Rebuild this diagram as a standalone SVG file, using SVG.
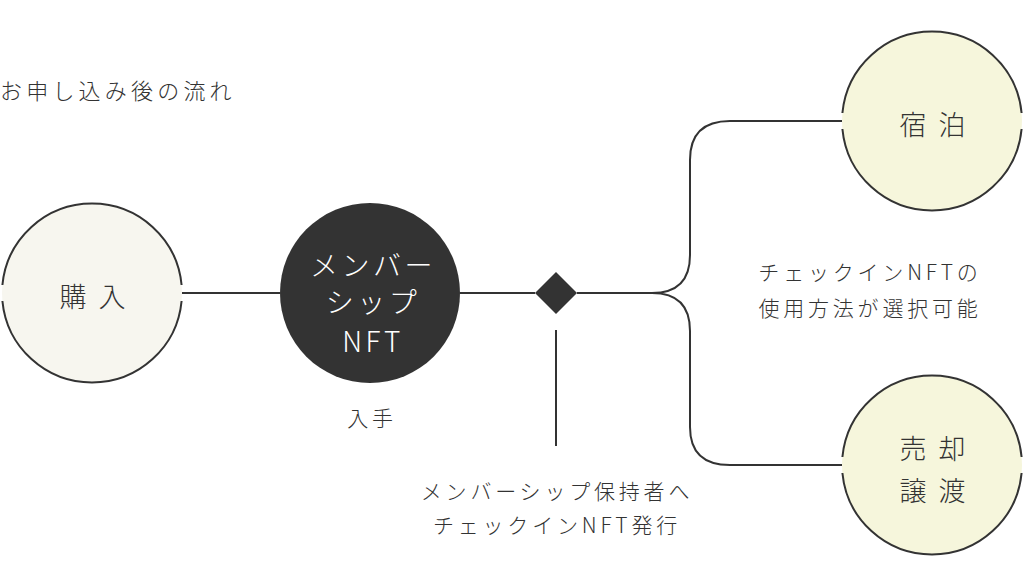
<svg xmlns="http://www.w3.org/2000/svg" width="1024" height="588" viewBox="0 0 1024 588">
<style>
text{font-family:"Noto Sans CJK JP","Noto Sans",sans-serif;fill:#333;text-anchor:middle;font-weight:300}
.ln{fill:none;stroke:#333;stroke-width:2}
.lbl{font-size:21px;letter-spacing:3.8px}
.big{font-size:27px;letter-spacing:3px}
.w{fill:#fff;font-size:28px;letter-spacing:3.5px}
</style>
<rect width="1024" height="588" fill="#fff"/>
<text x="0" y="99" style="text-anchor:start;font-size:22px;letter-spacing:4.2px">お申し込み後の流れ</text>
<g id="connectors">
<path class="ln" d="M182 293H280M460 293H535M577 293H652Q690 293 690 255V160Q690 121 730 121H842M652 293Q690 293 690 331V427Q690 465 730 465H842M556 330V446"/>
<path d="M556 272L577 293L556 314L535 293Z" fill="#333"/>
</g>
<g id="purchase">
<circle cx="92" cy="293" r="90" fill="#f7f6ef"/>
<path class="ln" d="M2.4 285A90 90 0 0 1 181.6 285M181.6 301A90 90 0 0 1 2.4 301"/>
<text class="big" x="94" y="307">購 入</text>
</g>
<g id="nft">
<circle cx="370" cy="293" r="90" fill="#333"/>
<text class="w" x="373" y="276">メンバー</text>
<text class="w" x="373" y="313">シップ</text>
<text class="w" x="373" y="352">NFT</text>
</g>
<text class="lbl" x="372" y="426">入手</text>
<text class="lbl" x="557" y="499">メンバーシップ保持者へ</text>
<text class="lbl" x="557" y="533">チェックインNFT発行</text>
<text class="lbl" x="870" y="280">チェックインNFTの</text>
<text class="lbl" x="870" y="316">使用方法が選択可能</text>
<g id="stay">
<circle cx="932" cy="121" r="90" fill="#f6f6dc"/>
<path class="ln" d="M842.4 113A90 90 0 0 1 1021.6 113M1021.6 129A90 90 0 0 1 842.4 129"/>
<text class="big" x="934" y="135">宿 泊</text>
</g>
<g id="sell">
<circle cx="932" cy="465" r="90" fill="#f6f6dc"/>
<path class="ln" d="M842.4 457A90 90 0 0 1 1021.6 457M1021.6 473A90 90 0 0 1 842.4 473"/>
<text class="big" x="934" y="459">売 却</text>
<text class="big" x="934" y="501">譲 渡</text>
</g>
</svg>
